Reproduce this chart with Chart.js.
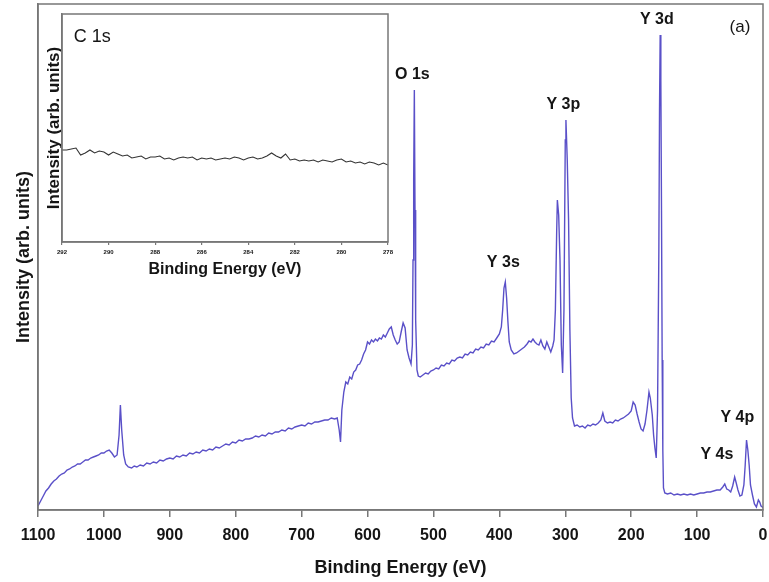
<!DOCTYPE html>
<html>
<head>
<meta charset="utf-8">
<script src="https://cdn.jsdelivr.net/npm/chart.js@4"></script>
<style>
  html, body { margin: 0; padding: 0; background: #fff; }
  #wrap { position: relative; width: 769px; height: 582px; }
  #survey { position: absolute; left: 0; top: 0; z-index: 2; }
  #inset { position: absolute; left: 40px; top: 10px; z-index: 1; }
</style>
</head>
<body>
<div id="wrap">
  <canvas id="inset" width="355" height="280"></canvas>
  <canvas id="survey" width="769" height="582"></canvas>
</div>
<script>
// survey spectrum (binding energy in eV, intensity in arb. units)
const surveyEnergy = [
  1100, 1096, 1092, 1088, 1084, 1080, 1076, 1072, 1068, 1064, 1060, 1056, 1052, 1048, 1044, 1040,
  1036, 1032, 1028, 1024, 1020, 1016, 1012, 1008, 1004, 1000, 996, 992, 988, 984, 980, 977, 975,
  973, 970, 967, 963, 958, 954, 950, 945, 940, 935, 930, 925, 920, 915, 910, 905, 900, 895, 890,
  885, 880, 875, 870, 865, 860, 855, 850, 845, 840, 835, 830, 825, 820, 815, 810, 805, 800, 795,
  790, 785, 780, 775, 770, 765, 760, 755, 750, 745, 740, 735, 730, 725, 720, 715, 710, 705, 700,
  695, 690, 685, 680, 675, 670, 665, 660, 655, 650, 646, 643, 641, 639, 636, 633, 630, 627, 624,
  621, 618, 615, 612, 609, 606, 603, 600, 597, 594, 591, 588, 585, 582, 579, 576, 573, 570, 567,
  564, 561, 558, 555, 552, 549, 546, 543, 540, 537, 534, 532, 531, 530, 529, 528, 527, 525, 523,
  520, 516, 512, 508, 504, 500, 496, 492, 488, 484, 480, 476, 472, 468, 464, 460, 456, 452, 448,
  444, 440, 436, 432, 428, 424, 420, 416, 412, 408, 404, 400, 397, 395, 393, 391, 389, 387, 385,
  382, 378, 374, 370, 366, 362, 358, 355, 352, 349, 346, 343, 340, 337, 334, 331, 328, 325, 322,
  319, 317, 315, 313, 312, 310, 308, 306, 304, 302, 300, 299, 297, 295, 293, 291, 289, 286, 282,
  278, 274, 270, 266, 262, 258, 254, 250, 246, 243, 240, 236, 232, 228, 224, 220, 216, 212, 208,
  204, 200, 197, 194, 191, 188, 185, 182, 179, 176, 173, 171, 168, 166, 164, 162, 160, 158, 157,
  156, 155, 154, 153, 152, 151, 149, 145, 140, 135, 130, 125, 120, 115, 110, 105, 100, 95, 90,
  85, 80, 75, 70, 65, 61, 58, 55, 52, 49, 46, 43, 41, 38, 35, 32, 29, 27, 25, 23, 21, 19, 16,
  13, 10, 7, 5, 3, 1, 0
];
const surveyCounts = [
  4, 9, 14, 19, 22, 26, 29, 31, 34, 36, 37, 40, 41, 43, 44, 46,
  46, 48, 50, 50, 52, 53, 54, 55, 57, 57, 59, 60, 57, 53, 55, 75, 105,
  80, 55, 46, 43, 42, 44, 43, 45, 44, 47, 46, 48, 47, 50, 49, 51, 52, 51, 54,
  53, 55, 54, 57, 56, 58, 57, 60, 59, 61, 60, 63, 62, 64, 66, 65, 68, 67, 70,
  69, 71, 71, 72, 74, 73, 75, 74, 77, 76, 78, 78, 80, 79, 82, 81, 83, 84, 85,
  84, 87, 86, 88, 88, 89, 90, 90, 92, 91, 92, 80, 68, 100, 118, 128, 126, 133, 131,
  138, 140, 145, 146, 150, 156, 160, 168, 166, 170, 168, 171, 169, 172, 171, 175, 173, 177, 181,
  183, 175, 170, 166, 168, 178, 187, 182, 160, 152, 146, 165, 250, 330, 420, 300, 190, 140, 134,
  133, 135, 137, 136, 139, 140, 142, 141, 145, 144, 147, 146, 150, 149, 152, 153, 152, 156, 155,
  158, 157, 161, 160, 163, 162, 166, 165, 169, 168, 172, 176, 183, 200, 222, 228, 212, 188, 168,
  160, 156, 157, 159, 161, 163, 166, 169, 168, 171, 168, 166, 165, 170, 164, 161, 168, 163, 158,
  164, 170, 200, 280, 310, 295, 250, 165, 137, 200, 370, 390, 350, 290, 180, 112, 92, 84, 85,
  83, 84, 82, 85, 84, 86, 85, 87, 90, 97, 89, 87, 88, 87, 90, 89, 91, 92, 94,
  96, 99, 108, 105, 96, 88, 81, 79, 86, 100, 118, 112, 95, 75, 62, 52, 100, 260, 400,
  475, 430, 300, 150, 60, 22, 17, 16, 17, 15, 16, 15, 16, 15, 16, 15, 16, 17, 17,
  18, 18, 19, 20, 20, 23, 26, 21, 20, 18, 24, 33, 28, 20, 14, 15, 25, 45, 70, 60, 45, 25, 15,
  6, 3, 10, 8, 4, 3, 2
];

const peakNames = ['O 1s', 'Y 3s', 'Y 3p', 'Y 3d', 'Y 4p', 'Y 4s'];
const peakLabelEnergy = [532, 394, 303, 161, 39, 70];
const peakLabelCounts = [435, 247, 405, 490, 92, 55];

// inset: C 1s region
const c1sEnergy = [
  292.0, 291.8, 291.6, 291.4, 291.2, 291.0, 290.8, 290.6, 290.4, 290.2, 290.0, 289.8, 289.6, 289.4,
  289.2, 289.0, 288.8, 288.6, 288.4, 288.2, 288.0, 287.8, 287.6, 287.4, 287.2, 287.0, 286.8, 286.6,
  286.4, 286.2, 286.0, 285.8, 285.6, 285.4, 285.2, 285.0, 284.8, 284.6, 284.4, 284.2, 284.0, 283.8,
  283.6, 283.4, 283.2, 283.0, 282.8, 282.6, 282.4, 282.2, 282.0, 281.8, 281.6, 281.4, 281.2, 281.0,
  280.8, 280.6, 280.4, 280.2, 280.0, 279.8, 279.6, 279.4, 279.2, 279.0, 278.8, 278.6, 278.4, 278.2, 278.0
];
const c1sCounts = [
  92, 92, 93, 94, 87, 89, 92, 89, 91, 90, 87, 90, 88, 86,
  87, 84, 85, 86, 83, 85, 85, 86, 83, 84, 82, 84, 85, 84,
  85, 82, 84, 83, 84, 82, 83, 84, 83, 85, 84, 82, 84, 85,
  83, 84, 86, 89, 86, 84, 88, 82, 83, 81, 82, 81, 82, 80,
  82, 81, 80, 82, 83, 80, 81, 79, 80, 78, 80, 79, 77, 79, 77
];
const c1sTicks = [292, 290, 288, 286, 284, 282, 280, 278];

const lineColor = '#5a50c8';
const textColor = '#151515';
const frameColor = '#777';

const framePlugin = {
  id: 'frame',
  afterDraw(chart) {
    const a = chart.chartArea;
    const ctx = chart.ctx;
    ctx.save();
    ctx.strokeStyle = frameColor;
    ctx.lineWidth = 1.5;
    ctx.strokeRect(a.left, a.top, a.right - a.left, a.bottom - a.top);
    ctx.restore();
  }
};

const peakLabels = {
  id: 'peakLabels',
  afterDatasetsDraw(chart) {
    const { ctx, scales: { x, y } } = chart;
    ctx.save();
    ctx.fillStyle = textColor;
    ctx.textAlign = 'center';
    ctx.textBaseline = 'middle';
    ctx.font = 'bold 16px "Liberation Sans", Arial, sans-serif';
    peakNames.forEach((name, i) => {
      ctx.fillText(name, x.getPixelForValue(peakLabelEnergy[i]), y.getPixelForValue(peakLabelCounts[i]));
    });
    ctx.font = '17px "Liberation Sans", Arial, sans-serif';
    ctx.fillText('(a)', x.getPixelForValue(35), y.getPixelForValue(483));
    ctx.restore();
  }
};

// labels hang past both ends, keep the plot edges where the frame is
const noEdgePad = (s) => { s.paddingLeft = 0; s.paddingRight = 0; };

new Chart(document.getElementById('survey'), {
  type: 'line',
  data: {
    datasets: [{
      data: surveyEnergy.map((e, i) => ({ x: e, y: surveyCounts[i] })),
      borderColor: lineColor,
      borderWidth: 1.4,
      pointRadius: 0,
      tension: 0
    }]
  },
  options: {
    responsive: false,
    animation: false,
    layout: { padding: { top: 4, right: 6, left: 0, bottom: 0 } },
    plugins: { legend: { display: false }, tooltip: { enabled: false } },
    scales: {
      x: {
        type: 'linear',
        reverse: true,
        min: 0,
        max: 1100,
        ticks: {
          stepSize: 100,
          maxRotation: 0,
          padding: 9,
          color: textColor,
          font: { family: '"Liberation Sans", Arial', size: 16, weight: 'bold' },
          callback: (v) => String(v)
        },
        grid: { drawOnChartArea: false, tickLength: 7, color: frameColor, lineWidth: 1.5 },
        border: { color: frameColor, width: 1.5 },
        title: {
          display: true,
          text: 'Binding Energy (eV)',
          color: textColor,
          padding: { top: 0, bottom: 3 },
          font: { family: '"Liberation Sans", Arial', size: 18, weight: 'bold' }
        },
        afterFit: (s) => { s.height = 72; noEdgePad(s); }
      },
      y: {
        min: 0,
        max: 506,
        ticks: { display: false },
        grid: { display: false },
        border: { color: frameColor, width: 1.5 },
        title: {
          display: true,
          text: 'Intensity (arb. units)',
          color: textColor,
          padding: { top: 13, bottom: 0 },
          font: { family: '"Liberation Sans", Arial', size: 18, weight: 'bold' }
        },
        afterFit: (s) => { s.width = 38; }
      }
    }
  },
  plugins: [framePlugin, peakLabels]
});

const insetLabel = {
  id: 'insetLabel',
  beforeDraw(chart) {
    const ctx = chart.ctx;
    ctx.save();
    ctx.fillStyle = '#fff';
    ctx.fillRect(0, 0, chart.width, chart.height);
    ctx.restore();
  },
  afterDatasetsDraw(chart) {
    const { ctx, scales: { x, y } } = chart;
    ctx.save();
    ctx.fillStyle = textColor;
    ctx.textAlign = 'left';
    ctx.textBaseline = 'middle';
    ctx.font = '18px "Liberation Sans", Arial, sans-serif';
    ctx.fillText('C 1s', x.getPixelForValue(291.5), y.getPixelForValue(205));
    ctx.restore();
  }
};

new Chart(document.getElementById('inset'), {
  type: 'line',
  data: {
    datasets: [{
      data: c1sEnergy.map((e, i) => ({ x: e, y: c1sCounts[i] })),
      borderColor: '#333',
      borderWidth: 1.1,
      pointRadius: 0,
      tension: 0
    }]
  },
  options: {
    responsive: false,
    animation: false,
    layout: { padding: { top: 4, right: 7, left: 0, bottom: 0 } },
    plugins: { legend: { display: false }, tooltip: { enabled: false } },
    scales: {
      x: {
        type: 'linear',
        reverse: true,
        min: 278,
        max: 292,
        afterBuildTicks: (s) => { s.ticks = c1sTicks.map(v => ({ value: v })); },
        ticks: {
          maxRotation: 0,
          padding: 4,
          color: textColor,
          font: { family: '"Liberation Sans", Arial', size: 6, weight: 'bold' }
        },
        grid: { drawOnChartArea: false, tickLength: 3, color: frameColor, lineWidth: 1.2 },
        border: { color: frameColor, width: 1.5 },
        title: {
          display: true,
          text: 'Binding Energy (eV)',
          color: textColor,
          padding: { top: 0, bottom: 11 },
          font: { family: '"Liberation Sans", Arial', size: 16, weight: 'bold' }
        },
        afterFit: (s) => { s.height = 48; noEdgePad(s); }
      },
      y: {
        min: 0,
        max: 228,
        ticks: { display: false },
        grid: { display: false },
        border: { color: frameColor, width: 1.5 },
        title: {
          display: true,
          text: 'Intensity (arb. units)',
          color: textColor,
          padding: { top: 4, bottom: 0 },
          font: { family: '"Liberation Sans", Arial', size: 17, weight: 'bold' }
        },
        afterFit: (s) => { s.width = 22; }
      }
    }
  },
  plugins: [insetLabel, framePlugin]
});
</script>
</body>
</html>
